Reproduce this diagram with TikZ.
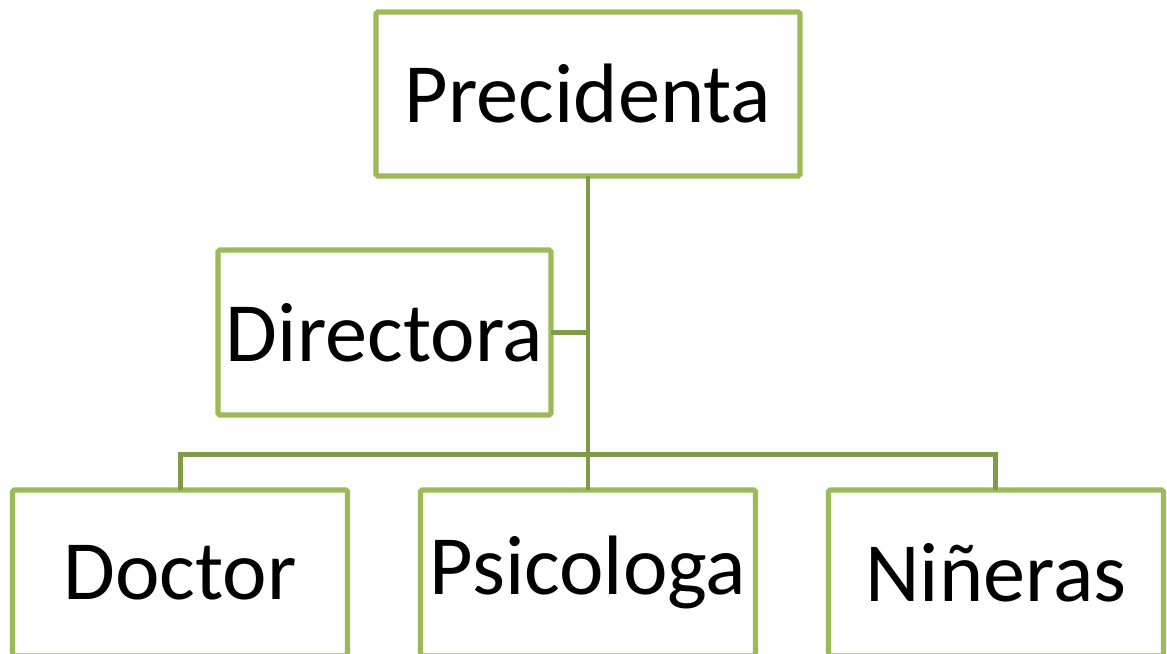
\documentclass[tikz,border=0pt]{standalone}
\usepackage{fontspec}
\setmainfont{Carlito}
\usetikzlibrary{positioning}

\definecolor{boxgreen}{HTML}{9BBB59}
\definecolor{linkgreen}{HTML}{7F9B48}

\begin{document}
\begin{tikzpicture}[x=0.02cm, y=-0.02cm,
    orgbox/.style={draw=boxgreen, line width=3pt, rounded corners=1pt,
      fill=white, outer sep=0pt, inner sep=0pt,
      font=\fontsize{48}{58}\selectfont},
    link/.style={draw=linkgreen, line width=2.8pt}]
  \useasboundingbox (0,0) rectangle (1167,653);

  \node[orgbox, minimum width=8.48cm, minimum height=3.28cm] (pres) at (588,94) {Precidenta};
  \node[orgbox, minimum width=6.66cm, minimum height=3.3cm] (dir) at (384.5,332.5) {Directora};
  \node[orgbox, minimum width=6.7cm, minimum height=3.32cm, below=6.28cm of pres] (psico) {Psicologa};
  \node[orgbox, minimum width=6.7cm, minimum height=3.32cm, left=1.46cm of psico] (doc) {Doctor};
  \node[orgbox, minimum width=6.7cm, minimum height=3.32cm, right=1.46cm of psico] (nin) {Niñeras};

  % connectors
  \draw[link] (pres.south) -- (psico.north);
  \draw[link] (dir.east) -- (dir.east -| pres.south);
  \draw[link] (doc.north) -- ++(0,-35) -| (nin.north);
\end{tikzpicture}
\end{document}
